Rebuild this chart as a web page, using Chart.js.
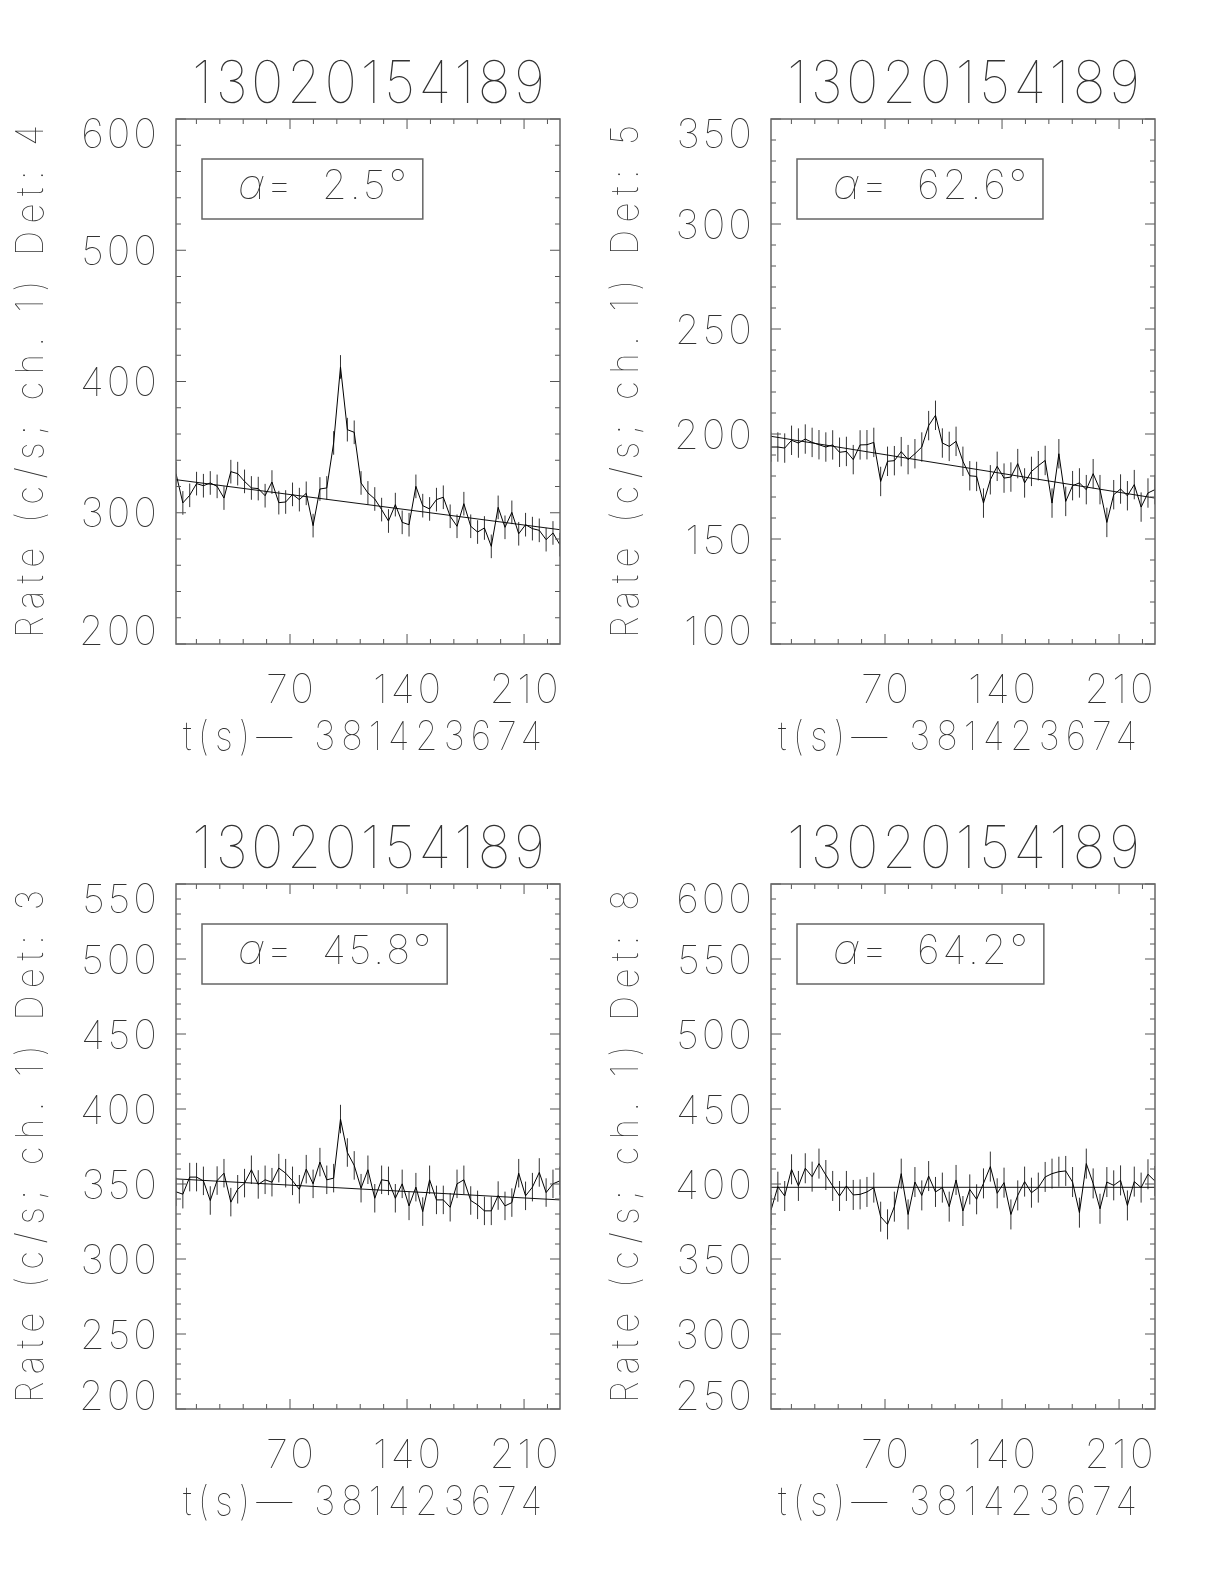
<!DOCTYPE html>
<html>
<head>
<meta charset="utf-8">
<script src="https://cdn.jsdelivr.net/npm/chart.js@4.4.0/dist/chart.umd.min.js"></script>
<style>
  body { margin: 0; background: #fff; width: 1224px; height: 1584px; position: relative; overflow: hidden; }
  canvas { position: absolute; }
</style>
</head>
<body>
<canvas id="p1" width="600" height="780" style="left:0px;top:0px"></canvas>
<canvas id="p2" width="600" height="780" style="left:595px;top:0px"></canvas>
<canvas id="p3" width="600" height="780" style="left:0px;top:765px"></canvas>
<canvas id="p4" width="600" height="780" style="left:595px;top:765px"></canvas>
<script>
const burst = '13020154189'
const xTitle = 't(s)\u2014 381423674'
const xTicks = [70, 140, 210]

// bin times (s after 381423674)
const times = [1.8, 5.9, 10.0, 14.1, 18.2, 22.3, 26.4, 30.5, 34.6, 38.7,
  42.8, 46.9, 51.0, 55.1, 59.2, 63.3, 67.4, 71.5, 75.6, 79.7,
  83.8, 87.9, 92.0, 96.1, 100.2, 104.3, 108.4, 112.5, 116.6, 120.7,
  124.8, 128.9, 133.0, 137.1, 141.2, 145.3, 149.4, 153.5, 157.6, 161.7,
  165.8, 169.9, 174.0, 178.1, 182.2, 186.3, 190.4, 194.5, 198.6, 202.7,
  206.8, 210.9, 215.0, 219.1, 223.2, 227.3, 231.4]

const rate4 = [329.8, 307.5, 313.3, 322.2, 320.6, 322.7, 320.1, 311.2, 331.3, 329.8,
  323.9, 318.9, 318.4, 313.0, 323.4, 307.7, 308.2, 314.0, 310.0, 314.8,
  290.2, 318.1, 318.9, 353.2, 411.1, 363.3, 361.3, 322.7, 315.1, 310.5,
  302.4, 293.7, 306.2, 292.7, 290.9, 320.1, 305.4, 302.9, 310.0, 311.8,
  297.3, 289.7, 306.9, 289.7, 285.3, 288.4, 274.4, 304.1, 288.9, 300.3,
  284.0, 290.9, 287.9, 286.6, 279.5, 284.6, 275.7]
const rate5 = [193.8, 193.8, 193.3, 197.0, 195.7, 197.6, 196.0, 194.9, 193.8, 194.8,
  191.3, 191.7, 187.8, 194.8, 194.9, 196.0, 177.4, 187.0, 187.3, 191.6,
  187.8, 190.6, 193.8, 204.0, 208.9, 195.7, 194.1, 196.5, 187.0, 180.1,
  179.8, 167.1, 178.2, 184.6, 179.0, 179.5, 185.9, 176.7, 182.2, 184.9,
  187.4, 167.1, 190.6, 167.9, 175.4, 176.7, 173.5, 181.1, 173.5, 157.9,
  171.1, 173.8, 170.6, 175.9, 165.2, 171.9, 173.5]
const rate3 = [344.8, 343.2, 354.6, 354.6, 352.1, 339.0, 352.3, 357.2, 337.9, 346.5,
  350.6, 359.5, 349.7, 352.8, 351.2, 360.6, 357.2, 352.1, 346.5, 359.9,
  350.1, 364.6, 352.8, 353.9, 393.3, 371.0, 362.4, 347.2, 359.5, 340.5,
  352.8, 352.1, 340.5, 350.1, 335.4, 347.9, 331.6, 352.8, 339.4, 339.4,
  334.5, 350.1, 352.8, 339.0, 336.1, 332.1, 332.1, 342.3, 335.4, 337.6,
  357.2, 342.1, 347.9, 357.7, 344.3, 350.1, 352.1]
const rate8 = [382.6, 398.2, 392.0, 409.8, 398.7, 410.5, 404.9, 413.6, 406.0, 398.7,
  392.0, 398.7, 392.7, 393.1, 394.7, 397.6, 378.2, 373.1, 384.9, 406.9,
  379.7, 401.3, 392.4, 405.3, 394.7, 397.6, 384.9, 402.7, 382.0, 396.4,
  389.8, 400.4, 411.6, 393.8, 400.9, 379.7, 392.4, 401.6, 394.2, 397.6,
  404.7, 406.9, 408.2, 408.7, 401.3, 380.9, 413.6, 400.4, 383.5, 401.3,
  399.1, 402.4, 385.7, 401.6, 397.6, 406.5, 402.0]

// background fit, value at first and last bin
const fit4 = [325.2, 287.1]
const fit5 = [198.9, 169.5]
const fit3 = [353.4, 339.4]
const fit8 = [397.8, 397.8]

// error bar half length
const err4 = 9
const err5 = 7
const err3 = 9.5
const err8 = 10

const angle4 = '2.5'
const angle5 = '62.6'
const angle3 = '45.8'
const angle8 = '64.2'

const yTicks4 = [200, 300, 400, 500, 600]
const yTicks5 = [100, 150, 200, 250, 300, 350]
const yTicks3 = [200, 250, 300, 350, 400, 450, 500, 550]
const yTicks8 = [250, 300, 350, 400, 450, 500, 550, 600]

const panels = [
  { id: 'p1', det: '4', rate: rate4, fit: fit4, err: err4, angle: angle4, yTicks: yTicks4, minor: 20 },
  { id: 'p2', det: '5', rate: rate5, fit: fit5, err: err5, angle: angle5, yTicks: yTicks5, minor: 10 },
  { id: 'p3', det: '3', rate: rate3, fit: fit3, err: err3, angle: angle3, yTicks: yTicks3, minor: 10 },
  { id: 'p4', det: '8', rate: rate8, fit: fit8, err: err8, angle: angle8, yTicks: yTicks8, minor: 10 }
]

const FONT = 'Inter, Roboto'
const INK = '#333'

// spread text from x0 to x1, glyphs squeezed horizontally by sx
function spanText(ctx, text, x0, x1, y, sx = 1) {
  ctx.save()
  ctx.letterSpacing = '0px'
  ctx.textAlign = 'left'
  ctx.translate(x0, y)
  ctx.scale(sx, 1)
  const target = (x1 - x0) / sx
  const w = ctx.measureText(text).width
  const n = [...text].length
  const gap = (target - w) / (n - 1)
  if (gap > 0) {
    ctx.letterSpacing = gap + 'px'
    ctx.fillText(text, 0, 0)
  } else {
    ctx.fillText(text, 0, 0, target)
  }
  ctx.restore()
}

function makePlugin(p) {
  return {
    id: 'idlFrame',
    beforeDatasetsDraw(chart) {
      const { ctx, chartArea: a, scales: { x, y } } = chart
      ctx.save()
      ctx.beginPath()
      ctx.rect(a.left, a.top, a.right - a.left, a.bottom - a.top)
      ctx.clip()
      ctx.strokeStyle = '#333'
      ctx.lineWidth = 1
      times.forEach((t, i) => {
        const px = x.getPixelForValue(t)
        ctx.beginPath()
        ctx.moveTo(px, y.getPixelForValue(p.rate[i] - p.err))
        ctx.lineTo(px, y.getPixelForValue(p.rate[i] + p.err))
        ctx.stroke()
      })
      ctx.restore()
    },
    afterDraw(chart) {
      const { ctx, chartArea: a, scales: { x, y } } = chart
      ctx.save()
      // ticks, inward on all four sides
      ctx.strokeStyle = '#555'
      ctx.lineWidth = 1
      ctx.beginPath()
      for (let t = 0; t <= x.max; t += 14) {
        if (t < x.min) continue
        const px = x.getPixelForValue(t)
        const len = t % 70 === 0 ? 10 : 5
        ctx.moveTo(px, a.bottom); ctx.lineTo(px, a.bottom - len)
        ctx.moveTo(px, a.top); ctx.lineTo(px, a.top + len)
      }
      const step = p.yTicks[1] - p.yTicks[0]
      for (let v = y.min; v <= y.max; v += p.minor) {
        const py = y.getPixelForValue(v)
        const len = (v - y.min) % step === 0 ? 10 : 5
        ctx.moveTo(a.left, py); ctx.lineTo(a.left + len, py)
        ctx.moveTo(a.right, py); ctx.lineTo(a.right - len, py)
      }
      ctx.stroke()

      // frame
      ctx.strokeStyle = '#666'
      ctx.lineWidth = 1.5
      ctx.strokeRect(a.left, a.top, a.right - a.left, a.bottom - a.top)

      ctx.fillStyle = INK
      ctx.textBaseline = 'alphabetic'

      // title
      ctx.font = '100 59px ' + FONT
      spanText(ctx, burst, 192, 545, 103, 0.93)

      // y tick labels
      ctx.font = '100 40px ' + FONT
      ctx.textAlign = 'right'
      ctx.letterSpacing = '3px'
      const dh = 0.727 * 40
      p.yTicks.forEach(v => {
        const py = y.getPixelForValue(v)
        let base = py + dh / 2
        if (v === y.max) base = py + dh
        if (v === y.min) base = py + 1
        ctx.fillText(String(v), 160, base)
      })

      // x tick labels
      ctx.textAlign = 'center'
      xTicks.forEach(v => {
        ctx.fillText(String(v), x.getPixelForValue(v) + 1.5, 703)
      })
      ctx.letterSpacing = '0px'

      // x title
      ctx.font = '100 40px ' + FONT
      spanText(ctx, xTitle, 183, 542, 750, 0.9)

      // y title, rotated
      ctx.save()
      ctx.translate(43, 638)
      ctx.rotate(-Math.PI / 2)
      ctx.font = '100 38px ' + FONT
      spanText(ctx, 'Rate (c/s; ch. 1) Det: ' + p.det, 0, 513, 0, 0.92)
      ctx.restore()

      // angle box
      ctx.font = 'italic 100 42px ' + FONT
      ctx.textAlign = 'left'
      ctx.fillText('\u03b1', 238, 199)
      ctx.font = '100 42px ' + FONT
      ctx.fillText('=', 266, 199)
      ctx.font = '100 40px ' + FONT
      ctx.letterSpacing = '3px'
      const label = p.angle + '\u00b0'
      ctx.fillText(label, 322, 199)
      const w = ctx.measureText(label).width
      ctx.letterSpacing = '0px'
      ctx.strokeStyle = '#666'
      ctx.lineWidth = 1.5
      ctx.strokeRect(202, 159, 322 + w + 13 - 202, 60)
      ctx.restore()
    }
  }
}

panels.forEach(p => {
  const ctx = document.getElementById(p.id).getContext('2d')
  new Chart(ctx, {
    type: 'line',
    data: {
      datasets: [{
        label: 'rate',
        data: times.map((t, i) => ({ x: t, y: p.rate[i] })),
        borderColor: '#000',
        borderWidth: 1,
        pointRadius: 0,
        tension: 0
      }, {
        label: 'fit',
        data: [{ x: times[0], y: p.fit[0] }, { x: times[times.length - 1], y: p.fit[1] }],
        borderColor: '#111',
        borderWidth: 1,
        pointRadius: 0,
        tension: 0
      }]
    },
    options: {
      responsive: false,
      animation: false,
      layout: { padding: { left: 176, right: 40, top: 119, bottom: 136 } },
      plugins: { legend: { display: false }, tooltip: { enabled: false } },
      scales: {
        x: { type: 'linear', min: 1.8, max: 231.5, display: false },
        y: { type: 'linear', min: p.yTicks[0], max: p.yTicks[p.yTicks.length - 1], display: false }
      }
    },
    plugins: [makePlugin(p)]
  })
})
</script>
</body>
</html>
